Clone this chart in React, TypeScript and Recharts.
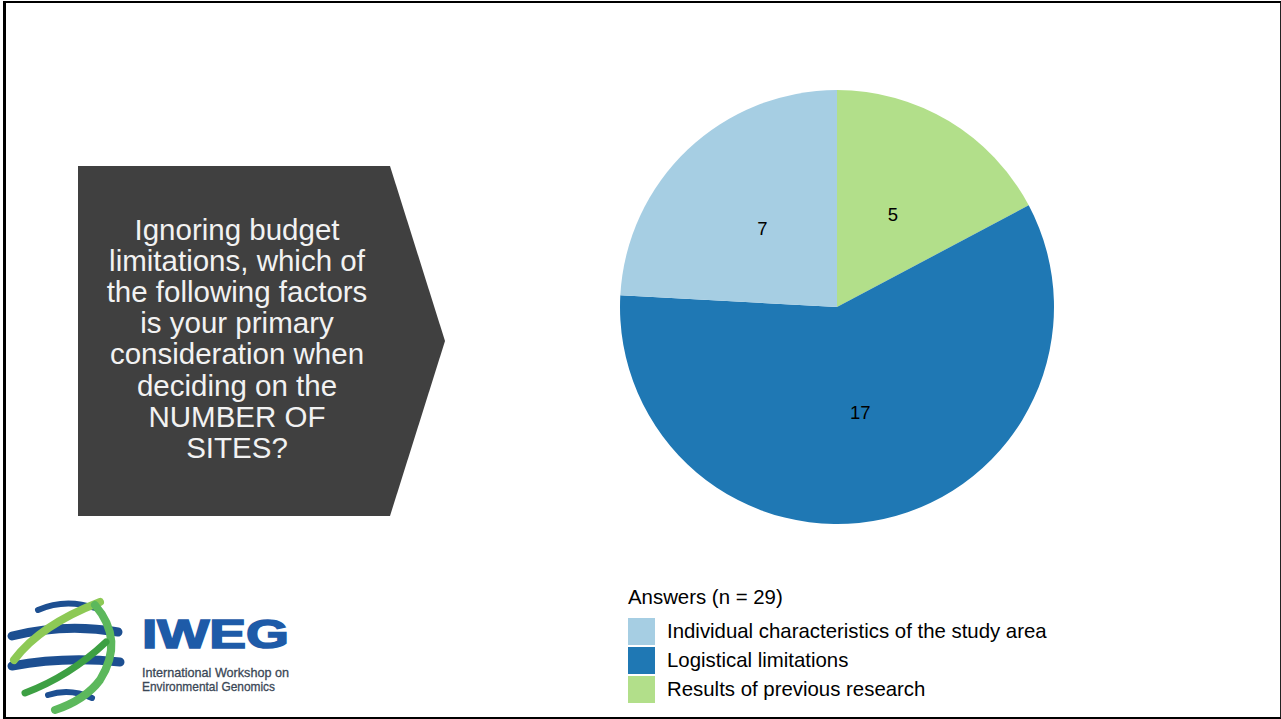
import { PieChart, Pie, Cell, Legend } from "recharts"

// order = clockwise from 12 o'clock
const categories = ["Results of previous research", "Logistical limitations", "Individual characteristics of the study area"]
const counts = [5, 17, 7]
const colors = ["#b2df8a", "#1f78b4", "#a6cee3"]
// legend is alphabetical in the original
const legendOrder = [2, 1, 0]
const questionLines = [
  "Ignoring budget",
  "limitations, which of",
  "the following factors",
  "is your primary",
  "consideration when",
  "deciding on the",
  "NUMBER OF",
  "SITES?",
]

const data = categories.map((name, i) => ({ name, value: counts[i] }))
const total = counts.reduce((a, b) => a + b, 0)
const RADIAN = Math.PI / 180
const FONT = "'Liberation Sans', Arial, sans-serif"

function renderLabel(p: any) {
  const r = p.outerRadius * 0.5
  const x = p.cx + r * Math.cos(-p.midAngle * RADIAN)
  const y = p.cy + r * Math.sin(-p.midAngle * RADIAN)
  return (
    <text x={x} y={y} fill="#000" fontSize={18.5} fontFamily={FONT} textAnchor="middle" dominantBaseline="central">
      {p.value}
    </text>
  )
}

function renderLegend() {
  return (
    <div style={{ fontFamily: FONT, color: "#000" }}>
      <div style={{ fontSize: 20.4, lineHeight: "24px", marginBottom: 8 }}>Answers (n = {total})</div>
      {legendOrder.map((i) => (
        <div key={i} style={{ display: "flex", alignItems: "center", height: 29 }}>
          <span style={{ width: 27, height: 27, background: colors[i], display: "inline-block", marginRight: 12 }} />
          <span style={{ fontSize: 20.4 }}>{categories[i]}</span>
        </div>
      ))}
    </div>
  )
}

function Logo() {
  return (
    <svg width={320} height={139} style={{ position: "absolute", left: 0, top: 580 }}>
      <g fill="none" strokeLinecap="round">
        <path d="M 38 30 Q 65 18 95 28" stroke="#1d4f91" strokeWidth={6} />
        <path d="M 12 56 Q 65 43 118 52" stroke="#1d4f91" strokeWidth={9} />
        <path d="M 12 86 Q 65 76 120 82" stroke="#1d4f91" strokeWidth={9} />
        <path d="M 48 115 Q 70 108 92 118" stroke="#1d4f91" strokeWidth={6} />
        <path d="M 14 80 Q 40 45 100 22" stroke="#8dc955" strokeWidth={8} />
        <path d="M 95 25 Q 125 60 100 100 Q 85 120 55 130" stroke="#5cb85c" strokeWidth={8} />
        <path d="M 25 113 Q 70 96 106 62" stroke="#3da043" strokeWidth={7} />
      </g>
      <text x={142} y={68} fontFamily={FONT} fontWeight={700} fontSize={40} fill="#1e5ba8"
        stroke="#1e5ba8" strokeWidth={1.6} textLength={147} lengthAdjust="spacingAndGlyphs">IWEG</text>
      <text x={142} y={97} fontFamily={FONT} fontSize={13} fill="#3a4756" stroke="#3a4756" strokeWidth={0.3}
        textLength={147} lengthAdjust="spacingAndGlyphs">International Workshop on</text>
      <text x={142} y={111} fontFamily={FONT} fontSize={13} fill="#3a4756" stroke="#3a4756" strokeWidth={0.3}
        textLength={133} lengthAdjust="spacingAndGlyphs">Environmental Genomics</text>
    </svg>
  )
}

export default function App() {
  return (
    <div style={{ position: "absolute", left: 0, top: 0, width: 1281, height: 719, background: "#fff", overflow: "hidden" }}>
      <div style={{
        position: "absolute", left: 3, top: 1, width: 1274, height: 714,
        borderTop: "2px solid #000", borderLeft: "3px solid #000", borderRight: "2px solid #222", borderBottom: "2px solid #000",
      }} />
      <svg width={460} height={560} style={{ position: "absolute", left: 0, top: 0 }}>
        <polygon points="78,166 390,166 445,341 390,516 78,516" fill="#404040" />
        {questionLines.map((t, i) => (
          <text key={i} x={237} y={240 + i * 31.1} textAnchor="middle" fontFamily={FONT} fontSize={29.5} fill="#f2f2f2">
            {t}
          </text>
        ))}
      </svg>
      <Logo />
      <div style={{ position: "absolute", left: 0, top: 0 }}>
        <PieChart width={1281} height={719} margin={{ top: 0, right: 0, bottom: 0, left: 0 }}>
          <Pie
            data={data}
            dataKey="value"
            nameKey="name"
            cx={837}
            cy={307}
            outerRadius={217}
            startAngle={90}
            endAngle={-270}
            stroke="none"
            label={renderLabel}
            labelLine={false}
            isAnimationActive={false}
          >
            {data.map((d, i) => <Cell key={d.name} fill={colors[i]} />)}
          </Pie>
          <Legend content={renderLegend} wrapperStyle={{ position: "absolute", left: 628, top: 585, width: 500 }} />
        </PieChart>
      </div>
    </div>
  )
}
